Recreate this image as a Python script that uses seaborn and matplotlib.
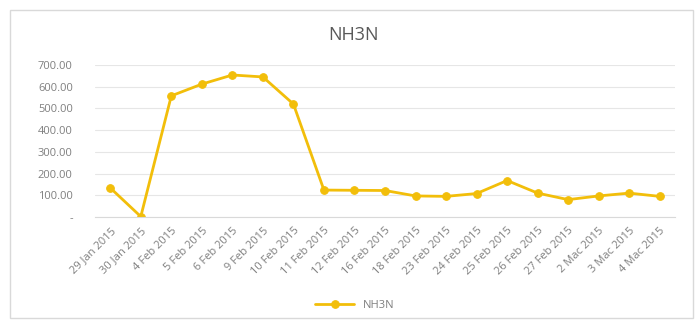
import pandas as pd
import matplotlib.pyplot as plt
import seaborn as sns
from matplotlib.patches import Rectangle

# data
dates = ["29 Jan 2015", "30 Jan 2015", "4 Feb 2015", "5 Feb 2015", "6 Feb 2015",
         "9 Feb 2015", "10 Feb 2015", "11 Feb 2015", "12 Feb 2015", "16 Feb 2015",
         "18 Feb 2015", "23 Feb 2015", "24 Feb 2015", "25 Feb 2015", "26 Feb 2015",
         "27 Feb 2015", "2 Mac 2015", "3 Mac 2015", "4 Mac 2015"]
nh3n = [134, 2, 558, 612, 654, 645, 520, 124, 123, 122,
        97, 95, 108, 168, 110, 80, 97, 110, 95]
yticks = [0, 100, 200, 300, 400, 500, 600, 700]

df = pd.DataFrame({"date": dates, "NH3N": nh3n})
df["pos"] = range(len(df))

sns.set_style("white")
plt.rcParams["font.family"] = ["Open Sans", "DejaVu Sans"]
grey = "#7f7f7f"
gold = "#F2BE0A"

fig = plt.figure(figsize=(6.98, 3.22), dpi=100)
fig.patches.append(Rectangle((10 / 698, 4 / 322), 683 / 698, 308 / 322,
                             transform=fig.transFigure, fill=False,
                             edgecolor="#d9d9d9", linewidth=1))
ax = fig.add_axes([95 / 698, 1 - 217 / 322, 580 / 698, 152 / 322])

sns.lineplot(data=df, x="pos", y="NH3N", ax=ax, color=gold, linewidth=2.0,
             marker="o", markersize=5.5, markeredgecolor=gold, label="NH3N")

ax.set_xlim(-0.5, len(dates) - 0.5)
ax.set_ylim(0, 700)
ax.set_yticks(yticks)
ax.set_yticklabels(["-" if v == 0 else f"{v:,.2f}" for v in yticks],
                   fontsize=8, color=grey)
ax.set_xticks(df["pos"])
ax.set_xticklabels(dates, rotation=45, ha="right", rotation_mode="anchor",
                   fontsize=8, color=grey)
ax.tick_params(axis="y", length=0, pad=16)
ax.tick_params(axis="x", length=0, pad=6)
ax.grid(axis="y", color="#e6e6e6", linewidth=0.8)
ax.set_axisbelow(True)
for s in ["top", "right", "left"]:
    ax.spines[s].set_visible(False)
ax.spines["bottom"].set_color("#d9d9d9")
ax.set_xlabel("")
ax.set_ylabel("")

fig.text(353 / 698, 1 - 35 / 322, "NH3N", ha="center", va="center",
         fontsize=13, color="#595959")
ax.legend(loc="center", bbox_to_anchor=(355 / 698, 1 - 305 / 322),
          bbox_transform=fig.transFigure, frameon=False, fontsize=8,
          labelcolor=grey, handlelength=3.5)

fig.savefig("out.png", dpi=100)
